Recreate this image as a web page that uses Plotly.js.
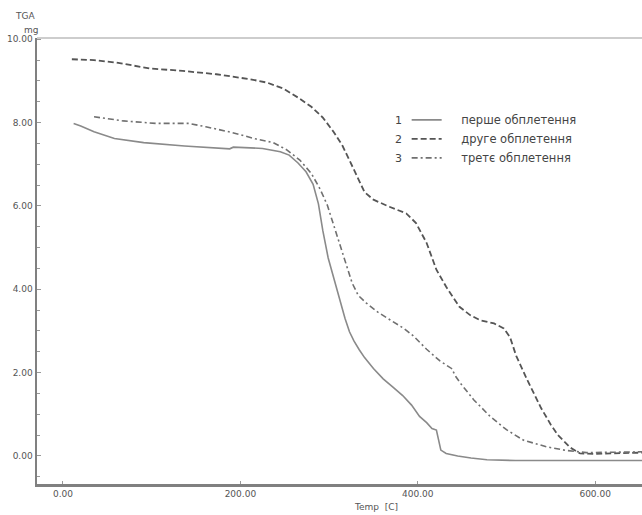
<!DOCTYPE html>
<html>
<head>
<meta charset="utf-8">
<script src="https://cdn.plot.ly/plotly-3.0.1.min.js"></script>
<style>html,body{margin:0;padding:0;background:#fff;}#chart{width:642px;height:515px;}</style>
</head>
<body>
<div id="chart"></div>
<script>
// Series 1: перше обплетення (solid)
const temp1 = [12,20,35,58,91,137,188,192,225,245,255,265,274,282,288,293,299,305,311,318,323,328,334,340,350,361,372,383,393,402,410,416,421,423,426,432,445,460,478,510,560,653];
const mass1 = [7.98,7.92,7.78,7.62,7.52,7.44,7.37,7.41,7.38,7.30,7.22,7.03,6.82,6.52,6.05,5.40,4.75,4.30,3.80,3.30,2.98,2.76,2.55,2.36,2.10,1.85,1.65,1.45,1.22,0.95,0.80,0.66,0.62,0.40,0.14,0.06,0.00,-0.05,-0.09,-0.11,-0.11,-0.11];
// Series 2: друге обплетення (dashed)
const temp2 = [10,35,60,98,135,173,211,230,248,265,280,293,305,315,324,332,340,350,368,387,398,410,421,432,447,459,470,486,497,504,511,524,539,550,558,572,583,600,653];
const mass2 = [9.52,9.50,9.44,9.30,9.24,9.16,9.04,8.96,8.82,8.60,8.38,8.12,7.78,7.45,7.05,6.68,6.33,6.15,5.98,5.82,5.59,5.11,4.47,4.06,3.58,3.38,3.26,3.18,3.06,2.85,2.40,1.80,1.15,0.75,0.50,0.20,0.06,0.05,0.08];
// Series 3: третє обплетення (dash-dot)
const temp3 = [35,68,105,142,161,189,217,237,252,267,280,290,298,305,312,319,326,333,342,355,370,385,395,410,425,438,443,449,463,482,500,519,545,568,590,620,653];
const mass3 = [8.14,8.04,7.98,7.98,7.90,7.77,7.61,7.52,7.35,7.10,6.78,6.40,6.02,5.55,5.05,4.63,4.15,3.85,3.67,3.45,3.25,3.05,2.88,2.56,2.28,2.10,1.90,1.72,1.35,0.94,0.63,0.38,0.22,0.13,0.08,0.09,0.10];

const seriesNames = ["перше обплетення", "друге обплетення", "третє обплетення"];
const seriesNums = ["1", "2", "3"];
const xTickVals = [0, 200, 400, 600];
const xTickText = ["0.00", "200.00", "400.00", "600.00"];
const yTickVals = [0, 2, 4, 6, 8, 10];

const pad = "\u00a0\u00a0\u00a0\u00a0";
const traces = [
  {x: temp1, y: mass1, name: pad + seriesNames[0], mode: "lines", line: {color: "#8a8a8a", width: 1.6, dash: "solid"}},
  {x: temp2, y: mass2, name: pad + seriesNames[1], mode: "lines", line: {color: "#555555", width: 1.8, dash: "6px,3px"}},
  {x: temp3, y: mass3, name: pad + seriesNames[2], mode: "lines", line: {color: "#707070", width: 1.6, dash: "6px,3px,2px,3px"}}
];

const tickFont = {family: "DejaVu Sans, sans-serif", size: 9, color: "#555"};
const numY = [8.04, 7.585, 7.13];
const annotations = seriesNums.map((n, i) => ({
  x: 377.7, y: numY[i], xref: "x", yref: "y", text: n, showarrow: false,
  font: {family: "DejaVu Sans, sans-serif", size: 11, color: "#444"}, xanchor: "center", yanchor: "middle"
}));
annotations.push({x: 376, y: 507, text: "Temp  [C]", showarrow: false, font: tickFont});
annotations.push({x: 25, y: 16, text: "TGA", showarrow: false, font: tickFont});
annotations.push({x: 31, y: 30, text: "mg", showarrow: false, font: tickFont});
const W = 642, H = 515, ml = 37, mr = 0, mt = 38, mb = 31;
const pw = W - ml - mr, ph = H - mt - mb;
for (let i = annotations.length - 3; i < annotations.length; i++) {
  const a = annotations[i];
  a.xref = "paper"; a.yref = "paper";
  a.x = (a.x - ml) / pw;
  a.y = 1 - (a.y - mt) / ph;
  a.xanchor = "center"; a.yanchor = "middle";
}

const layout = {
  width: W, height: H,
  margin: {l: ml, r: mr, t: mt, b: mb, pad: 0},
  paper_bgcolor: "#fff", plot_bgcolor: "#fff",
  showlegend: true,
  legend: {x: 0.611, y: 0.849, xanchor: "left", yanchor: "top", bgcolor: "rgba(0,0,0,0)",
           font: {family: "DejaVu Sans, sans-serif", size: 11.5, color: "#444"}, tracegroupgap: 0},
  xaxis: {
    range: [-29.3, 652.8], tickvals: xTickVals, ticktext: xTickText,
    ticks: "inside", ticklen: 3, tickcolor: "#999", tickwidth: 1,
    showline: true, linecolor: "#808080", linewidth: 2.5,
    showgrid: false, zeroline: false, tickfont: tickFont, fixedrange: true
  },
  yaxis: {
    range: [-0.673, 10.03], tickvals: yTickVals, tickformat: ".2f",
    ticks: "inside", ticklen: 4, tickcolor: "#999", tickwidth: 1,
    minor: {dtick: 0.5, ticks: "inside", ticklen: 3, tickcolor: "#999", tickwidth: 1, showgrid: false},
    showline: true, linecolor: "#808080", linewidth: 2.5,
    showgrid: false, zeroline: false, tickfont: tickFont, fixedrange: true
  },
  shapes: [{type: "line", xref: "paper", yref: "paper", x0: 0, x1: 1, y0: 1, y1: 1,
            line: {color: "#bdbdbd", width: 1.5}}],
  annotations: annotations
};

Plotly.newPlot("chart", traces, layout, {displayModeBar: false, staticPlot: true});
</script>
</body>
</html>
